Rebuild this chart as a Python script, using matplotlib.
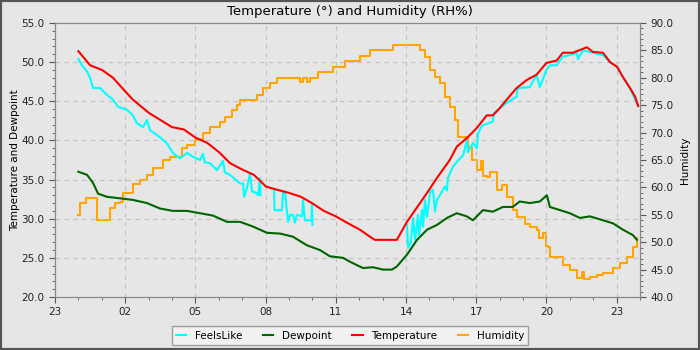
import numpy as np
import matplotlib
matplotlib.use("Agg")
import matplotlib.pyplot as plt
from matplotlib.patches import Rectangle
from matplotlib.ticker import MultipleLocator

# Hours since midnight for each reading
temp_hours = [0.0, 0.5, 1.01, 1.48, 1.99, 2.33, 3.02, 4.0, 4.51, 4.98, 5.5, 6.01, 6.48, 6.99,
              7.5, 8.02, 8.49, 9.0, 9.51, 9.98, 10.49, 11.0, 11.47, 12.03, 12.46, 12.67, 13.61,
              14.04, 14.6, 14.9, 15.32, 15.87, 16.17, 16.6, 17.03, 17.45, 17.71, 18.0, 18.3,
              18.73, 19.15, 19.58, 20.0, 20.44, 20.7, 21.13, 21.56, 21.73, 21.99, 22.42, 22.72,
              23.02, 23.27, 23.57, 23.79, 23.92]
temperature = [51.4, 49.6, 49.0, 48.0, 46.3, 45.2, 43.5, 41.7, 41.4, 40.4, 39.7, 38.5, 37.1, 36.3,
               35.6, 34.1, 33.7, 33.3, 32.8, 32.0, 31.0, 30.3, 29.5, 28.6, 27.7, 27.3, 27.3,
               29.6, 32.0, 33.3, 35.2, 37.5, 39.2, 40.3, 41.6, 43.2, 43.2, 44.1, 45.2,
               46.7, 47.7, 48.4, 49.9, 50.2, 51.2, 51.2, 51.7, 51.9, 51.3, 51.2, 50.0,
               49.4, 48.1, 46.7, 45.6, 44.4]

dew_hours = [0.0, 0.37, 0.62, 0.84, 1.22, 1.78, 2.33, 2.93, 3.49, 4.04, 4.64, 5.2, 5.75, 6.35,
             6.91, 7.46, 8.06, 8.62, 9.17, 9.77, 10.32, 10.75, 11.31, 11.61, 12.16, 12.59, 13.02,
             13.4, 13.61, 14.04, 14.47, 14.9, 15.32, 15.75, 16.17, 16.6, 16.86, 17.29, 17.71,
             18.14, 18.56, 18.86, 19.29, 19.72, 20.02, 20.15, 20.58, 21.0, 21.43, 21.86, 22.42,
             22.85, 23.27, 23.7, 23.87]
dewpoint = [36.0, 35.6, 34.6, 33.2, 32.8, 32.6, 32.4, 32.0, 31.3, 31.0, 31.0, 30.7, 30.4, 29.6,
            29.6, 29.0, 28.2, 28.1, 27.7, 26.6, 26.0, 25.2, 25.0, 24.5, 23.7, 23.8, 23.5,
            23.5, 23.9, 25.4, 27.3, 28.6, 29.2, 30.1, 30.7, 30.3, 29.8, 31.1, 30.9,
            31.5, 31.5, 32.2, 32.0, 32.2, 33.0, 31.5, 31.1, 30.7, 30.1, 30.3, 29.8,
            29.4, 28.6, 27.9, 27.3]

feels_hours = [0.0, 0.15, 0.37, 0.5, 0.62, 0.92, 1.22, 1.48, 1.69, 2.08, 2.33, 2.5, 2.76, 2.93,
               3.06, 3.49, 3.79, 4.04, 4.34, 4.64, 4.9, 5.2, 5.32, 5.4, 5.62, 5.92, 6.18, 6.26,
               6.48, 6.91, 7.04, 7.08, 7.21, 7.33, 7.42, 7.59, 7.68, 7.76, 7.78, 8.0,
               8.36, 8.38, 8.7, 8.74, 8.83, 8.91, 8.96, 9.04, 9.17, 9.25, 9.34, 9.56, 9.6,
               9.68, 9.96, 9.98, 10.0, 10.5,
               14.04, 14.09, 14.21, 14.3, 14.39, 14.51, 14.56, 14.68, 14.73, 14.81, 14.9,
               15.03, 15.15, 15.24, 15.32, 15.45, 15.66, 15.75, 15.79, 16.0, 16.18, 16.44,
               16.6, 16.65, 16.86, 17.03, 17.08, 17.25, 17.71, 17.76, 18.0, 18.3, 18.73,
               18.78, 19.29, 19.58, 19.72, 20.0, 20.15, 20.44, 20.7, 21.0, 21.3, 21.35,
               21.56, 21.99, 22.42, 22.72, 23.02, 23.27, 23.57, 23.92]
feels_like = [50.4, 49.6, 48.8, 48.0, 46.7, 46.7, 45.8, 45.2, 44.3, 43.9, 43.2, 42.2, 41.7, 42.6,
              41.3, 40.4, 39.6, 38.4, 37.7, 38.4, 37.9, 37.5, 38.3, 37.2, 37.1, 36.2, 37.4, 35.9,
              35.6, 34.5, 34.5, 32.8, 34.0, 35.8, 33.5, 33.3, 33.0, 35.2, 33.0, np.nan,
              33.7, 31.1, 31.1, 33.3, 33.5, 31.0, 29.6, 30.5, 30.5, 29.5, 30.5, 30.3, 32.4,
              29.8, 29.8, 31.8, 29.2, np.nan,
              29.2, 26.3, 27.0, 30.1, 27.3, 30.5, 27.9, 31.1, 29.0, 32.4, 30.2,
              33.4, 33.7, 30.9, 32.4, 33.0, 34.1, 33.6, 35.2, 36.6, 37.3, 38.1,
              40.0, 38.5, 39.7, 39.0, 40.9, 41.9, 42.4, 43.5, 44.1, 44.8, 45.6,
              46.7, 46.8, 48.4, 46.8, 49.0, 49.6, 49.6, 50.7, 50.9, 51.2, 50.4,
              51.5, 51.2, 50.9, 50.0, 49.4, 48.1, 46.7, 44.4]

hum_hours = [0.0, 0.07, 0.32, 0.5, 0.79, 1.18, 1.35, 1.56, 1.78, 1.91, 2.33, 2.63, 2.93, 3.2,
             3.62, 3.91, 4.43, 4.64, 4.98, 5.32, 5.62, 6.05, 6.26, 6.56, 6.78, 6.91, 7.46, 7.63,
             7.89, 8.19, 8.49, 9.34, 9.47, 9.6, 9.77, 9.9, 10.24, 10.75, 10.88, 11.31, 11.39,
             12.03, 12.46, 13.4, 13.44, 14.47, 14.6, 14.81, 15.02, 15.24, 15.45, 15.66, 15.87,
             16.09, 16.22, 16.44, 16.65, 16.82, 17.03, 17.2, 17.29, 17.45, 17.6, 17.88, 18.1,
             18.3, 18.56, 18.73, 18.99, 19.1, 19.29, 19.58, 19.7, 19.85, 19.97, 20.06, 20.15,
             20.44, 20.7, 21.0, 21.3, 21.5, 21.6, 21.86, 22.16, 22.42, 22.85, 23.15, 23.44,
             23.7, 23.87]
humidity = [55.0, 57.1, 58.0, 58.0, 54.0, 54.0, 56.2, 57.1, 57.4, 58.9, 60.7, 61.4, 62.3, 63.5,
            65.0, 65.6, 67.2, 67.7, 68.6, 70.0, 71.0, 72.0, 72.9, 74.1, 75.0, 75.9, 75.9, 76.9,
            78.1, 79.0, 79.9, 79.9, 79.2, 79.9, 79.2, 79.9, 81.1, 81.1, 82.0, 82.0, 83.1,
            84.0, 85.1, 85.1, 86.0, 86.0, 85.1, 83.8, 81.4, 80.1, 79.0, 76.5, 74.7,
            72.3, 69.2, 69.2, 67.4, 65.0, 63.2, 64.8, 62.0, 61.9, 62.8, 59.5, 60.4,
            58.2, 55.9, 54.6, 54.6, 53.4, 52.8, 52.2, 50.8, 51.6, 49.3, 49.1, 47.3,
            47.3, 45.8, 44.9, 43.5, 44.6, 43.2, 43.6, 44.0, 44.4, 45.3, 46.2, 47.3,
            49.1, 50.7]

tick_pos = [-1, 2, 5, 8, 11, 14, 17, 20, 23]
tick_labels = ["23", "02", "05", "08", "11", "14", "17", "20", "23"]

plt.rcParams['font.family'] = ['DejaVu Sans']
bg = "#e6e6e6"

fig = plt.figure(figsize=(7, 3.5), dpi=100)
fig.patch.set_facecolor(bg)
fig.patches.append(Rectangle((0, 0), 1, 1, transform=fig.transFigure, fill=False,
                             edgecolor="#555555", linewidth=3))

ax = fig.add_axes([55 / 700, 1 - 297 / 350, 585 / 700, 274 / 350])
ax2 = ax.twinx()
ax.set_zorder(ax2.get_zorder() + 1)
ax.patch.set_visible(False)
ax2.patch.set_facecolor(bg)

# humidity on the right axis, drawn underneath
ax2.plot(np.array(hum_hours) + 1, humidity, color="#ffa500", lw=1.5, drawstyle="steps-post")

ax.plot(np.array(feels_hours) + 1, feels_like, color="#00ffff", lw=1.5, label="FeelsLike")
ax.plot(np.array(dew_hours) + 1, dewpoint, color="#006400", lw=1.5, label="Dewpoint")
ax.plot(np.array(temp_hours) + 1, temperature, color="#ff0000", lw=1.5, label="Temperature")
ax.plot([], [], color="#ffa500", lw=1.5, label="Humidity")

ax.set_xlim(0, 25)
ax.set_ylim(20, 55)
ax2.set_ylim(40, 90)
ax.set_xticks(np.array(tick_pos) + 1)
ax.set_xticklabels(tick_labels)
ax.xaxis.set_minor_locator(MultipleLocator(1))
ax.yaxis.set_major_locator(MultipleLocator(5))
ax.yaxis.set_minor_locator(MultipleLocator(1))
ax2.yaxis.set_major_locator(MultipleLocator(5))
ax2.yaxis.set_minor_locator(MultipleLocator(1))
ax.yaxis.set_major_formatter("{x:.1f}")
ax2.yaxis.set_major_formatter("{x:.1f}")

ax.grid(True, which="major", color="#c0c0c0", linestyle=(0, (4, 4)), linewidth=0.8)
for a in (ax, ax2):
    for s in a.spines.values():
        s.set_color("#888888")
    a.tick_params(which="major", length=4, color="#555555", labelsize=7.5, labelcolor="#222222")
    a.tick_params(which="minor", length=2, color="#555555")
ax.tick_params(axis="x", which="both", top=False)

ax.set_ylabel("Temperature and Dewpoint", fontsize=7.5, labelpad=1)
ax2.set_ylabel("Humidity", fontsize=7.5, labelpad=5)
fig.suptitle("Temperature (°) and Humidity (RH%)", y=0.985, fontsize=9.5)

leg = fig.legend(loc="lower center", bbox_to_anchor=(0.5, 0.0), ncol=4, fontsize=7.5,
                 handlelength=1.0, fancybox=False, frameon=True, columnspacing=2.0,
                 borderpad=0.4)
leg.get_frame().set_edgecolor("#888888")
leg.get_frame().set_facecolor("#f4f4f4")
leg.get_frame().set_linewidth(1.0)

fig.savefig("out.png", dpi=100, facecolor=bg)
